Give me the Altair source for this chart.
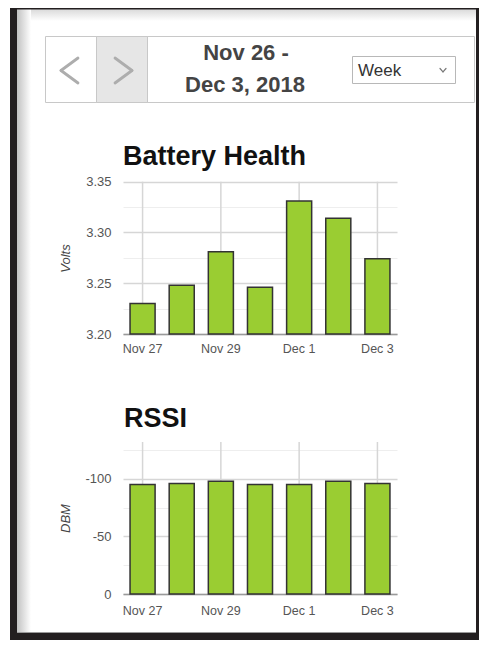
import altair as alt
import pandas as pd

# ---------------- data ----------------
days = ["Nov 27", "Nov 28", "Nov 29", "Nov 30", "Dec 1", "Dec 2", "Dec 3"]
battery_volts = [3.230, 3.248, 3.281, 3.246, 3.331, 3.314, 3.274]
rssi_dbm = [-95, -96, -98, -95, -95, -98, -96]
x_label_days = ["Nov 27", "Nov 29", "Dec 1", "Dec 3"]
battery_ticks = [3.20, 3.225, 3.25, 3.275, 3.30, 3.325, 3.35]
battery_domain = [3.20, 3.35]
rssi_ticks = [0, -25, -50, -75, -100, -125]
rssi_domain = [0, -132]
header_lines = ["Nov 26 -", "Dec 3, 2018"]
period_label = "Week"
panel_titles = ["Battery Health", "RSSI"]
unit_titles = ["Volts", "DBM"]

# ---------------- styling ----------------
W, H = 471, 632
FONT = "Liberation Sans"
BAR_FILL = "#9acd32"
BAR_STROKE = "#333333"
DARK = "#231f20"
GRID_MAJOR = "#d6d6d6"
GRID_MINOR = "#eeeeee"
one = pd.DataFrame({"k": [0]})


def rect(x, x2, y, y2, fill, stroke=None, sw=1):
    kw = dict(fill=fill)
    if stroke:
        kw.update(stroke=stroke, strokeWidth=sw)
    else:
        kw.update(strokeWidth=0)
    return alt.Chart(one).mark_rect(**kw).encode(
        x=alt.value(x), x2=alt.value(x2), y=alt.value(y), y2=alt.value(y2)
    )


def grad_rect(x, x2, y, y2, c0, c1, horizontal):
    g = alt.Gradient(
        gradient="linear",
        stops=[alt.GradientStop(color=c0, offset=0), alt.GradientStop(color=c1, offset=1)],
        x1=0, y1=0, x2=1 if horizontal else 0, y2=0 if horizontal else 1,
    )
    return alt.Chart(one).mark_rect(fill=g, strokeWidth=0).encode(
        x=alt.value(x), x2=alt.value(x2), y=alt.value(y), y2=alt.value(y2)
    )


def seg(x, y, x2, y2, color, w):
    return alt.Chart(one).mark_rule(color=color, strokeWidth=w, strokeCap="round").encode(
        x=alt.value(x), y=alt.value(y), x2=alt.value(x2), y2=alt.value(y2)
    )


def text(t, x, y, size, color, weight="normal", align="left", style="normal"):
    return alt.Chart(one).mark_text(
        text=t, font=FONT, fontSize=size, fontWeight=weight, color=color,
        align=align, baseline="alphabetic", fontStyle=style,
    ).encode(x=alt.value(x), y=alt.value(y))


# ---------------- frame / header decoration ----------------
decor = [
    grad_rect(9, 468, 1, 13, "#d9d9d9", "#ffffff", False),
    grad_rect(9, 23, 1, 625, "#c2c2c2", "#ffffff", True),
    rect(2, 9, 0, H, DARK),
    rect(2, W, 0, 1.5, DARK),
    rect(468, W, 0, H, DARK),
    rect(2, W, 625, H, DARK),
    rect(9, 468, 624, 625, "#9a9a9a"),
    # header box
    rect(37.5, 466.5, 28.5, 94.5, "#ffffff", "#c8c8c8"),
    rect(88.5, 139.5, 28.5, 94.5, "#e6e6e6", "#c8c8c8"),
    rect(344.5, 447.5, 48.5, 75.5, "#ffffff", "#b8b8b8"),
    seg(53, 62.5, 70, 50, "#adadad", 2.8),
    seg(53, 62.5, 70, 75, "#adadad", 2.8),
    seg(124, 62.5, 107, 50, "#adadad", 2.8),
    seg(124, 62.5, 107, 75, "#adadad", 2.8),
    seg(432, 60.5, 435, 63.8, "#777777", 1.2),
    seg(438, 60.5, 435, 63.8, "#777777", 1.2),
    text(header_lines[0], 238, 52, 22, "#444444", "bold", "center"),
    text(header_lines[1], 237, 84, 22, "#444444", "bold", "center"),
    text(period_label, 350, 68, 17, "#333333"),
    text(panel_titles[0], 115, 157, 27, "#111111", "bold"),
    text(panel_titles[1], 116, 419, 27, "#111111", "bold"),
]


# ---------------- axes ----------------
def x_axis(axis_y, pad):
    return alt.Axis(
        values=x_label_days, orient="bottom", offset=axis_y - H, title=None,
        labelAngle=0, ticks=False, domain=True, domainColor="#9a9a9a", domainWidth=1.5,
        grid=False, bandPosition=0.5,
        labelFont=FONT, labelFontSize=12.5, labelColor="#555555", labelPadding=pad,
    )


def y_axis(values, major_test, label_expr, title, title_y):
    return alt.Axis(
        values=values, orient="left", offset=-115, domain=False, ticks=False, grid=True,
        gridColor={"condition": {"test": major_test, "value": GRID_MAJOR}, "value": GRID_MINOR},
        gridWidth={"condition": {"test": major_test, "value": 1.5}, "value": 1},
        labelExpr=label_expr, labelFont=FONT, labelFontSize=13, labelColor="#555555",
        labelPadding=12, labelBaseline="middle",
        title=title, titleFont=FONT, titleFontSize=13, titleFontStyle="italic",
        titleFontWeight="normal", titleColor="#444444", titleX=57 - 115, titleY=title_y,
        titleBaseline="middle", titleAlign="center",
    )


def x_scale():
    return alt.Scale(domain=days, range=[115, 389], paddingInner=0.36, paddingOuter=0.18)


def panel(df, field, domain, yrange, axis_y, label_pad, ticks, major, label_expr, title, title_y):
    yscale = alt.Scale(domain=domain, range=yrange, zero=False, nice=False)
    xax = x_axis(axis_y, label_pad)
    yax = y_axis(ticks, major, label_expr, title, title_y)
    grid_df = pd.DataFrame({"day": x_label_days})
    vgrid = alt.Chart(grid_df).mark_rule(color=GRID_MAJOR, strokeWidth=1.5).encode(
        x=alt.X("day:N", sort=days, scale=x_scale(), axis=xax),
        y=alt.Y(datum=domain[1], type="quantitative", scale=yscale, axis=yax),
        y2=alt.datum(domain[0]),
    )
    bars = alt.Chart(df).mark_bar(
        fill=BAR_FILL, stroke=BAR_STROKE, strokeWidth=1.5
    ).encode(
        x=alt.X("day:N", sort=days, scale=x_scale(), axis=xax),
        y=alt.Y(f"{field}:Q", scale=yscale, axis=yax),
        y2=alt.datum(domain[0]),
    )
    return alt.layer(vgrid, bars)


bat_df = pd.DataFrame({"day": days, "volts": battery_volts})
bat_major = "abs(datum.value*20 - round(datum.value*20)) < 0.01"
battery = panel(bat_df, "volts", battery_domain, [326, 173.7], 326, 8, battery_ticks,
                bat_major, bat_major + " ? format(datum.value, '.2f') : ''",
                unit_titles[0], 250)

rssi_df = pd.DataFrame({"day": days, "dbm": rssi_dbm})
rssi_major = "datum.value % 50 == 0"
rssi = panel(rssi_df, "dbm", rssi_domain, [586, 434], 586, 10, rssi_ticks,
             rssi_major, rssi_major + " ? '' + datum.value : ''", unit_titles[1], 510)

chart = (
    alt.layer(*decor, battery, rssi)
    .resolve_scale(x="independent", y="independent")
    .resolve_axis(x="independent", y="independent")
    .properties(width=W, height=H, padding=0, background="white",
                autosize=alt.AutoSizeParams(type="none"))
    .configure_view(strokeWidth=0)
)

chart.save("out.html", embed_options={"renderer": "svg", "actions": False})
